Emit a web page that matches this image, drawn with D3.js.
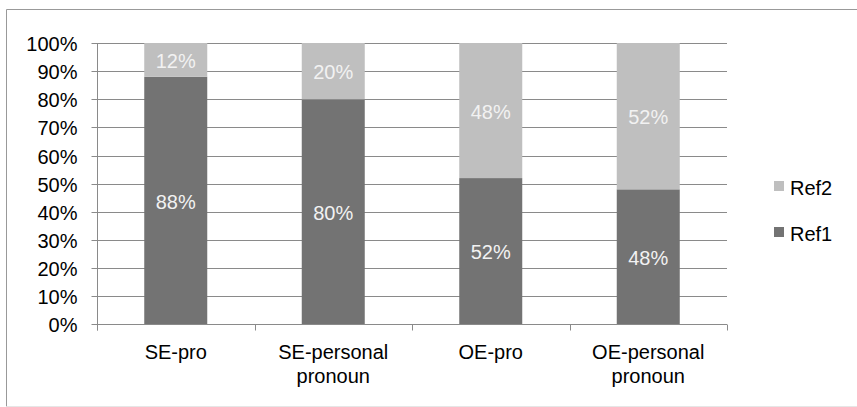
<!DOCTYPE html>
<html>
<head>
<meta charset="utf-8">
<script src="https://cdn.jsdelivr.net/npm/d3@7"></script>
<style>
  html, body { margin: 0; padding: 0; background: #fff; }
  svg { display: block; font-family: "Liberation Sans", Arial, sans-serif; }
</style>
</head>
<body>
<svg id="chart" width="857" height="407"></svg>
<script>
// Categories (x axis), two lines each where needed
const categories = ["SE-pro", "SE-personal pronoun", "OE-pro", "OE-personal pronoun"];
const categoryLines = [["SE-pro"], ["SE-personal", "pronoun"], ["OE-pro"], ["OE-personal", "pronoun"]];

// Share of each reference type, in percent
const ref1 = [88, 80, 52, 48];
const ref2 = [12, 20, 48, 52];

const seriesNames = ["Ref1", "Ref2"];
const seriesColors = ["#737373", "#bfbfbf"];
const yTicks = [0, 10, 20, 30, 40, 50, 60, 70, 80, 90, 100];

const svg = d3.select("#chart");
const W = 857, H = 407;

// Chart frame
svg.append("line").attr("x1", 6.5).attr("x2", 6.5).attr("y1", 9.5).attr("y2", 406.5)
  .attr("stroke", "#999");
svg.append("line").attr("x1", 6.5).attr("x2", W).attr("y1", 9.5).attr("y2", 9.5)
  .attr("stroke", "#999");
svg.append("line").attr("x1", 6.5).attr("x2", W).attr("y1", 406.5).attr("y2", 406.5)
  .attr("stroke", "#e6e6e6");

const plot = { left: 97, right: 727, top: 43, bottom: 324.4 };

const x = d3.scaleBand().domain(categories)
  .range([plot.left, plot.right]).paddingInner(0.6).paddingOuter(0.3);
const y = d3.scaleLinear().domain([0, 100]).range([plot.bottom, plot.top]);

// Gridlines
svg.append("g").selectAll("line").data(yTicks).join("line")
  .attr("x1", plot.left).attr("x2", plot.right)
  .attr("y1", d => Math.round(y(d)) + 0.5).attr("y2", d => Math.round(y(d)) + 0.5)
  .attr("stroke", "#8a8a8a").attr("stroke-width", 1);

// Stacked bars
const rows = categories.map((c, i) => ({ cat: c, Ref1: ref1[i], Ref2: ref2[i] }));
const stacked = d3.stack().keys(seriesNames)(rows);

const layers = svg.append("g").selectAll("g").data(stacked).join("g")
  .attr("fill", (d, i) => seriesColors[i]);
layers.selectAll("rect").data(d => d).join("rect")
  .attr("x", d => x(d.data.cat))
  .attr("width", x.bandwidth())
  .attr("y", d => y(d[1]))
  .attr("height", d => y(d[0]) - y(d[1]));

// Value labels inside each segment
layers.selectAll("text").data((d) => d.map(s => ({ s, key: d.key }))).join("text")
  .attr("x", d => x(d.s.data.cat) + x.bandwidth() / 2)
  .attr("y", d => (y(d.s[0]) + y(d.s[1])) / 2 + 8)
  .attr("text-anchor", "middle")
  .attr("font-size", 20)
  .attr("fill", "#f2f2f2")
  .text(d => d.s.data[d.key] + "%");

// Y axis
const yAxis = svg.append("g")
  .attr("transform", `translate(${plot.left + 0.5},0)`)
  .call(d3.axisLeft(y).tickValues(yTicks).tickFormat(d => d + "%").tickSize(6).tickPadding(14));
yAxis.select(".domain").attr("stroke", "#8a8a8a").attr("d", `M0,${plot.top}V${plot.bottom + 6}`);
yAxis.selectAll(".tick line").attr("stroke", "#8a8a8a")
  .attr("transform", function () {
    return null;
  });
yAxis.selectAll(".tick").attr("transform", d => `translate(0,${Math.round(y(d)) + 0.5})`);
yAxis.selectAll(".tick text").attr("font-size", 20).attr("fill", "#000")
  .attr("font-family", "Liberation Sans, Arial, sans-serif").attr("dy", "0.36em");

// X axis: ticks at category boundaries
const xAxisY = Math.round(plot.bottom) + 0.5;
const bounds = d3.range(categories.length + 1)
  .map(i => plot.left + i * (plot.right - plot.left) / categories.length);
const xg = svg.append("g");
xg.append("line").attr("x1", plot.left).attr("x2", plot.right)
  .attr("y1", xAxisY).attr("y2", xAxisY).attr("stroke", "#8a8a8a");
xg.selectAll("line.tk").data(bounds).join("line").attr("class", "tk")
  .attr("x1", d => Math.round(d) + 0.5).attr("x2", d => Math.round(d) + 0.5)
  .attr("y1", xAxisY).attr("y2", xAxisY + 6).attr("stroke", "#8a8a8a");

const xLabels = xg.selectAll("text.cat").data(categories).join("text").attr("class", "cat")
  .attr("text-anchor", "middle").attr("font-size", 20).attr("fill", "#000")
  .attr("x", d => x(d) + x.bandwidth() / 2)
  .attr("y", 359);
xLabels.selectAll("tspan").data((d, i) => categoryLines[i]).join("tspan")
  .attr("x", function () { return d3.select(this.parentNode).attr("x"); })
  .attr("dy", (d, i) => i === 0 ? 0 : 24)
  .text(d => d);

// Legend (Ref2 above Ref1)
const legendItems = [
  { name: seriesNames[1], color: seriesColors[1] },
  { name: seriesNames[0], color: seriesColors[0] }
];
const lg = svg.append("g").selectAll("g").data(legendItems).join("g")
  .attr("transform", (d, i) => `translate(774,${181 + i * 46})`);
lg.append("rect").attr("width", 10).attr("height", 10).attr("fill", d => d.color);
lg.append("text").attr("x", 16).attr("y", 14).attr("font-size", 20).attr("fill", "#000")
  .text(d => d.name);
</script>
</body>
</html>
